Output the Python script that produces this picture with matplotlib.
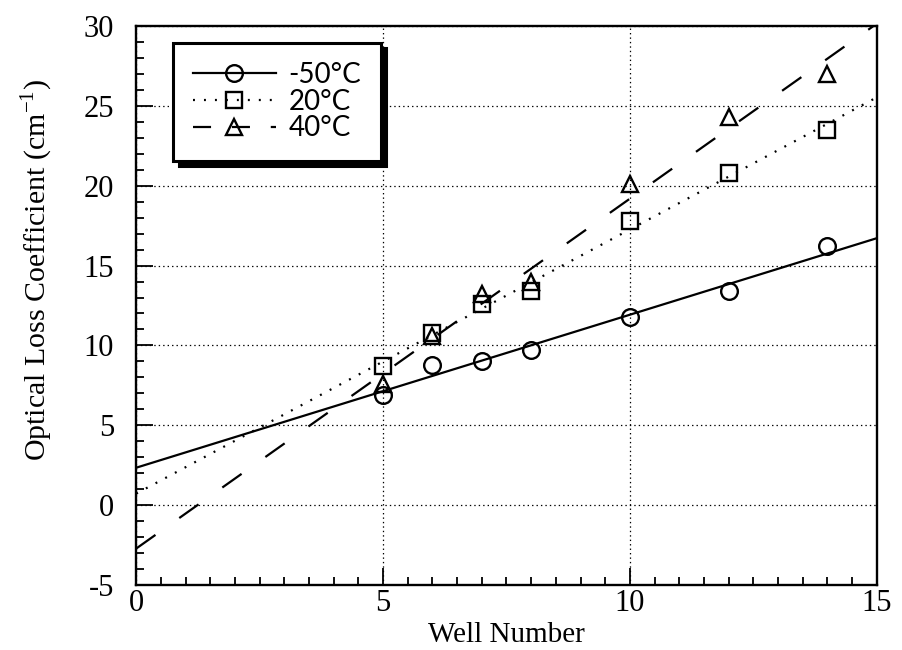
import numpy as np
import matplotlib
matplotlib.use("Agg")
import matplotlib.pyplot as plt
from matplotlib.ticker import MultipleLocator

plt.rcParams['font.family'] = ['Liberation Serif', 'DejaVu Serif']
plt.rcParams['mathtext.fontset'] = 'stix'
plt.rcParams['lines.scale_dashes'] = False
plt.rcParams['axes.unicode_minus'] = False

# measured loss coefficients per well number
wells = [5, 6, 7, 8, 10, 12, 14]
loss_m50 = [6.9, 8.8, 9.0, 9.7, 11.8, 13.4, 16.2]
loss_20 = [8.7, 10.8, 12.6, 13.4, 17.8, 20.8, 23.5]
loss_40 = [7.6, 10.6, 13.2, 14.0, 20.1, 24.3, 27.0]
labels = ['-50°C', '20°C', '40°C']

series = [
    (loss_m50, 'o', 12, '-', None),
    (loss_20, 's', 11, ':', (1.4, 6.5)),
    (loss_40, '^', 12, '--', (17, 21)),
]

fig = plt.figure(figsize=(9.02, 6.5), dpi=100)
ax = fig.add_axes([0.151, 0.1, 0.821, 0.86])

xfit = np.array([0, 15])
for (vals, mk, ms, ls, dash), lab in zip(series, labels):
    # least-squares straight line through each temperature set
    a, b = np.polyfit(wells, vals, 1)
    line, = ax.plot(xfit, a * xfit + b, color='black', lw=1.6, ls=ls)
    if dash is not None:
        line.set_dashes(dash)
    ax.plot(wells, vals, ls='none', marker=mk, ms=ms, mfc='none',
            mec='black', mew=1.7)

ax.set_xlim(0, 15)
ax.set_ylim(-5, 30)
ax.xaxis.set_major_locator(MultipleLocator(5))
ax.xaxis.set_minor_locator(MultipleLocator(0.5))
ax.yaxis.set_major_locator(MultipleLocator(5))
ax.yaxis.set_minor_locator(MultipleLocator(1))
ax.tick_params(which='both', direction='in', top=False, right=False,
               labelsize=22, width=1.3)
ax.tick_params(axis='x', pad=3)
ax.tick_params(axis='y', pad=16)
ax.tick_params(which='major', length=12)
ax.tick_params(which='minor', length=6)
for s in ax.spines.values():
    s.set_linewidth(1.7)

ax.grid(True, which='major', color='black', lw=0.9, ls=(0, (1, 2.2)))

ax.set_xlabel('Well Number', fontsize=21)
ax.xaxis.set_label_coords(0.5, -0.066)
ax.set_ylabel(r'Optical Loss Coefficient (cm$^{\mathregular{-1}}$)',
              fontsize=21.5, va='center')
ax.yaxis.set_label_coords(-0.135, 0.563)

# legend shows the marker centred on each line sample
handles = []
for (vals, mk, ms, ls, dash), lab in zip(series, labels):
    h, = ax.plot([], [], color='black', lw=1.6, ls=ls, marker=mk, ms=ms,
                 mfc='none', mec='black', mew=1.7, label=lab)
    if dash is not None:
        h.set_dashes(dash if ls == ':' else (13, 15))
    handles.append(h)

leg = ax.legend(handles=handles, loc='upper left', bbox_to_anchor=(0.05, 0.97),
                prop={'family': 'Lato', 'size': 20},
                handlelength=3.0, handletextpad=0.45,
                labelspacing=0.02, borderpad=0.7, borderaxespad=0,
                fancybox=False, edgecolor='black', framealpha=1, numpoints=1,
                shadow={'color': 'black', 'alpha': 1, 'ox': 4, 'oy': -4})
leg.get_frame().set_linewidth(2.2)

fig.savefig('out.png', dpi=100)
